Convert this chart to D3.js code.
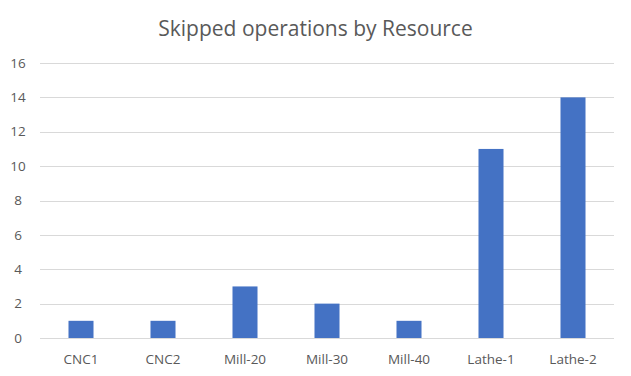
<!DOCTYPE html>
<html lang="en">
  <head>
    <meta charset="utf-8">
    <title>Skipped operations by Resource</title>
    <script src="https://cdn.jsdelivr.net/npm/d3@7"></script>
    <style>
      body { margin: 0; background: #fff; }
      text { font-family: "Open Sans", sans-serif; fill: #595959; }
    </style>
  </head>
  <body>
    <script>
      var w = 631;
      var h = 376;

      var resources = ["CNC1", "CNC2", "Mill-20", "Mill-30", "Mill-40", "Lathe-1", "Lathe-2"];
      var skipped = [1, 1, 3, 2, 1, 11, 14];
      var yTicks = [0, 2, 4, 6, 8, 10, 12, 14, 16];

      var margin = { left: 40, right: 17, top: 63, bottom: 38 };

      var xScale = d3.scaleBand()
                     .domain(resources)
                     .range([margin.left, w - margin.right])
                     .paddingInner(0.695)
                     .paddingOuter(0.3475);

      var yScale = d3.scaleLinear()
                     .domain([0, 16])
                     .range([h - margin.bottom, margin.top]);

      var svg = d3.select("body")
                  .append("svg")
                  .attr("width", w)
                  .attr("height", h);

      // title
      svg.append("text")
         .attr("x", w / 2)
         .attr("y", 36)
         .attr("text-anchor", "middle")
         .style("font-size", "21px")
         .text("Skipped operations by Resource");

      // gridlines
      svg.append("g")
         .selectAll("line")
         .data(yTicks)
         .enter()
         .append("line")
         .attr("x1", margin.left)
         .attr("x2", w - margin.right)
         .attr("y1", function(d) { return Math.round(yScale(d)) + 0.5; })
         .attr("y2", function(d) { return Math.round(yScale(d)) + 0.5; })
         .attr("stroke", "#d9d9d9")
         .attr("stroke-width", 1);

      // y labels
      svg.append("g")
         .selectAll("text")
         .data(yTicks)
         .enter()
         .append("text")
         .attr("x", 18)
         .attr("y", function(d) { return yScale(d); })
         .attr("dy", "0.35em")
         .attr("text-anchor", "middle")
         .style("font-size", "13.5px")
         .text(function(d) { return d; });

      // bars
      svg.append("g")
         .selectAll("rect")
         .data(skipped)
         .enter()
         .append("rect")
         .attr("x", function(d, i) { return xScale(resources[i]); })
         .attr("y", function(d) { return yScale(d); })
         .attr("width", xScale.bandwidth())
         .attr("height", function(d) { return yScale(0) - yScale(d); })
         .attr("fill", "#4472c4");

      // x labels
      svg.append("g")
         .selectAll("text")
         .data(resources)
         .enter()
         .append("text")
         .attr("x", function(d) { return xScale(d) + xScale.bandwidth() / 2; })
         .attr("y", h - margin.bottom + 26)
         .attr("text-anchor", "middle")
         .style("font-size", "13.5px")
         .text(function(d) { return d; });
    </script>
  </body>
</html>
